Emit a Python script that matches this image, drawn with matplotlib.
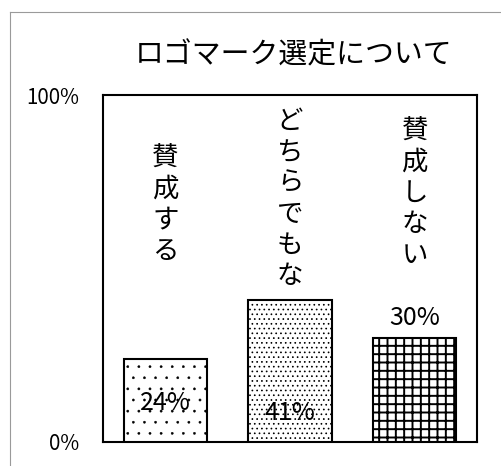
import matplotlib
matplotlib.use('Agg')
import matplotlib.pyplot as plt
from matplotlib.lines import Line2D
from matplotlib.transforms import Bbox, TransformedBbox

plt.rcParams['font.family'] = ['Noto Sans CJK JP', 'DejaVu Sans']

categories = ['賛成する', 'どちらでもない', '賛成しない']
values = [0.24, 0.41, 0.30]
value_labels = ['24%', '41%', '30%']
hatches = ['...', '.......', '++++']
# where the category text starts (top, in axis units) and where the % label sits
label_top = [0.856, 0.963, 0.934]
value_y = [0.112, 0.084, 0.357]
yticks = [0, 1]
ytick_labels = ['0%', '100%']

fig = plt.figure(figsize=(2.505, 2.33), dpi=200)
ax = fig.add_axes([103/501, 1-442/466, 374/501, 347/466])

x = range(len(categories))
hatch_lw = [0.15, 0.3, 0.7]
for i in x:
    with plt.rc_context({'hatch.linewidth': hatch_lw[i]}):
        ax.bar(i, values[i], width=0.67, color='white', edgecolor='black',
               linewidth=0.75, hatch=hatches[i], zorder=3)

for i in x:
    t = ax.text(i, label_top[i], '\n'.join(categories[i]), ha='center', va='top',
                fontsize=9.5, linespacing=1.19, zorder=2)
    # label box stops at the bar top, like the original
    t.set_clip_on(True)
    t.set_clip_box(TransformedBbox(Bbox([[i - 0.5, values[i] + 0.012], [i + 0.5, 1]]),
                                   ax.transData))
    ax.text(i, value_y[i], value_labels[i], ha='center', va='center',
            fontsize=9, zorder=4)

ax.set_xlim(-0.5, 2.5)
ax.set_ylim(0, 1)
ax.set_xticks([])
ax.set_yticks(yticks)
ax.set_yticklabels(ytick_labels, fontsize=7.4)
ax.tick_params(axis='y', length=0, pad=8.5)
for s in ax.spines.values():
    s.set_linewidth(0.75)

fig.text(294/501, 1-55/466, 'ロゴマーク選定について', ha='center', va='center',
         fontsize=10.4)

# outer chart-area border (only top/left visible in the crop)
fig.add_artist(Line2D([9.5/501, 9.5/501], [0, 1-12/466], color='#9a9a9a', lw=0.4))
fig.add_artist(Line2D([9.5/501, 1], [1-12/466, 1-12/466], color='#9a9a9a', lw=0.4))

fig.savefig('out.png', dpi=200)
